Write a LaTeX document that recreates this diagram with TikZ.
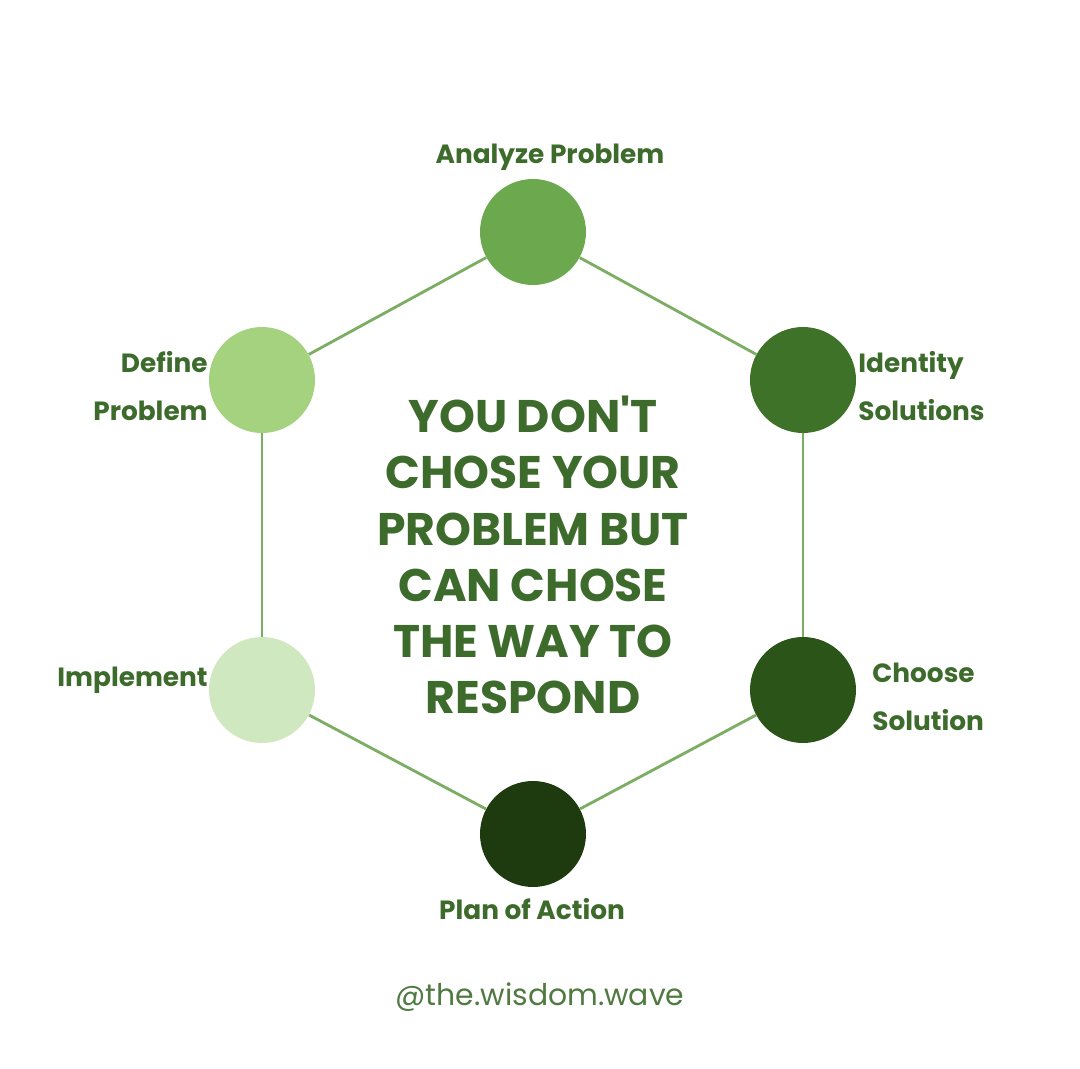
\documentclass[tikz,border=0pt]{standalone}
\usepackage{fontspec}
\setmainfont{Poppins}
\newfontfamily\quotefont{Poppins}
\usepackage{xcolor}
\usepackage{tikz}
\usetikzlibrary{positioning}

\definecolor{txtgreen}{HTML}{3D6B2C}
\definecolor{linegreen}{HTML}{7BAE62}
\definecolor{cAnalyze}{HTML}{6BA84E}
\definecolor{cIdentity}{HTML}{3E7229}
\definecolor{cChoose}{HTML}{2A5418}
\definecolor{cPlan}{HTML}{1E3A0F}
\definecolor{cImplement}{HTML}{CFE8BF}
\definecolor{cDefine}{HTML}{A4D27F}

\tikzset{
  stage/.style={circle, minimum size=2.12cm, inner sep=0pt},
  lbl/.style={font=\fontsize{15}{27}\selectfont\bfseries, text=txtgreen, inner sep=0pt},
  edge/.style={draw=linegreen, line width=1.6pt}
}

\begin{document}
\begin{tikzpicture}[x=0.02cm, y=-0.02cm]
    \useasboundingbox[fill=white] (0,0) rectangle (1080,1069);

    % Stages
    \node[stage, fill=cAnalyze] (analyze) at (533,232) {};
    \node[stage, fill=cIdentity] (identity) at (803,380) {};
    \node[stage, fill=cChoose] (choose) at (803,690) {};
    \node[stage, fill=cPlan] (plan) at (533,834) {};
    \node[stage, fill=cImplement] (implement) at (262,690) {};
    \node[stage, fill=cDefine] (define) at (262,380) {};

    % Hexagon edges
    \draw[edge] (analyze) -- (identity);
    \draw[edge] (identity) -- (choose);
    \draw[edge] (choose) -- (plan);
    \draw[edge] (plan) -- (implement);
    \draw[edge] (implement) -- (define);
    \draw[edge] (define) -- (analyze);

    % Labels
    \node[lbl] (analyzelbl) at (550,157) {Analyze Problem};
    \node[lbl, align=right, anchor=east] (definelbl) at (208,386) {Define\\Problem};
    \node[lbl, align=left, anchor=west] (identitylbl) at (858,386) {Identity\\Solutions};
    \node[lbl, anchor=east] (implementlbl) at (208,680) {Implement};
    \node[lbl, align=left, anchor=west] (chooselbl) at (872,697) {Choose\\Solution};
    \node[lbl] (planlbl) at (532,909) {Plan of Action};

    % Quote
    \node[font=\quotefont\fontsize{26}{32}\selectfont\bfseries, text=txtgreen, align=center] (quote) at (533,555)
        {YOU DON'T\\CHOSE YOUR\\PROBLEM BUT\\CAN CHOSE\\THE WAY TO\\RESPOND};

    % Handle
    \node[font=\fontsize{17}{19}\selectfont, text=txtgreen!90!white] (handle) at (540,997) {@the.wisdom.wave};
\end{tikzpicture}
\end{document}
